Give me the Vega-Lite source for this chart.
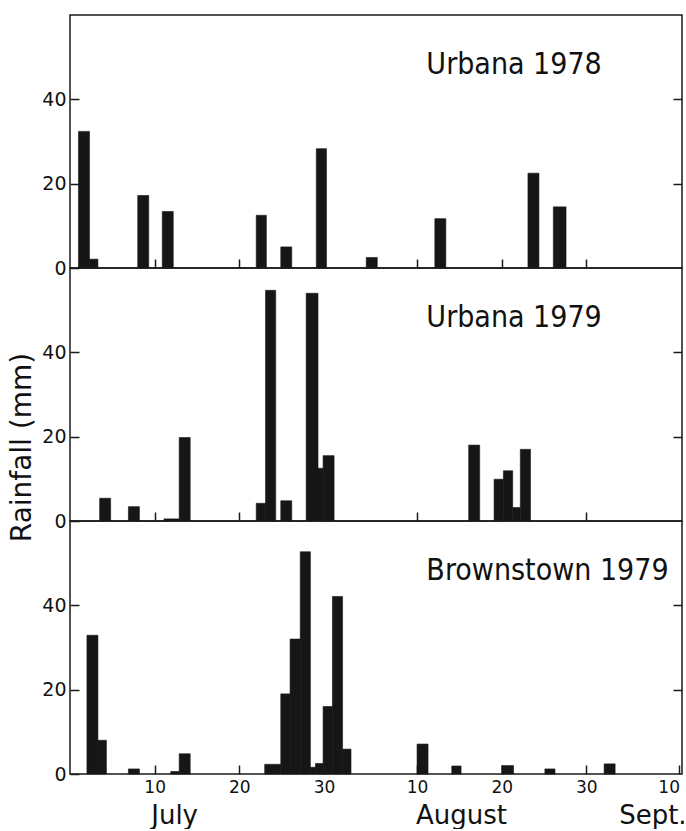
{
  "$schema": "https://vega.github.io/schema/vega-lite/v6.json",
  "padding": {"left": 8, "top": 14, "right": 2, "bottom": 0},
  "background": "white",
  "spacing": 0,
  "bounds": "flush",
  "datasets": {
    "rain": [
      {"site": "Urbana 1978", "start": 1.0, "end": 2.3, "rain_mm": 32.4},
      {"site": "Urbana 1978", "start": 2.3, "end": 3.3, "rain_mm": 2.1},
      {"site": "Urbana 1978", "start": 8.0, "end": 9.3, "rain_mm": 17.2},
      {"site": "Urbana 1978", "start": 10.9, "end": 12.2, "rain_mm": 13.4},
      {"site": "Urbana 1978", "start": 22.0, "end": 23.2, "rain_mm": 12.5},
      {"site": "Urbana 1978", "start": 24.9, "end": 26.2, "rain_mm": 5.0},
      {"site": "Urbana 1978", "start": 29.1, "end": 30.3, "rain_mm": 28.3},
      {"site": "Urbana 1978", "start": 35.0, "end": 36.3, "rain_mm": 2.5},
      {"site": "Urbana 1978", "start": 43.1, "end": 44.4, "rain_mm": 11.7},
      {"site": "Urbana 1978", "start": 54.1, "end": 55.4, "rain_mm": 22.5},
      {"site": "Urbana 1978", "start": 57.1, "end": 58.6, "rain_mm": 14.5},
      {"site": "Urbana 1979", "start": 3.5, "end": 4.8, "rain_mm": 5.4},
      {"site": "Urbana 1979", "start": 6.9, "end": 8.2, "rain_mm": 3.4},
      {"site": "Urbana 1979", "start": 11.1, "end": 12.9, "rain_mm": 0.5},
      {"site": "Urbana 1979", "start": 12.9, "end": 14.2, "rain_mm": 19.8},
      {"site": "Urbana 1979", "start": 22.0, "end": 23.1, "rain_mm": 4.2},
      {"site": "Urbana 1979", "start": 23.1, "end": 24.3, "rain_mm": 54.7},
      {"site": "Urbana 1979", "start": 24.9, "end": 26.2, "rain_mm": 4.8},
      {"site": "Urbana 1979", "start": 27.9, "end": 29.3, "rain_mm": 54.0},
      {"site": "Urbana 1979", "start": 29.3, "end": 29.9, "rain_mm": 12.5},
      {"site": "Urbana 1979", "start": 29.9, "end": 31.2, "rain_mm": 15.5},
      {"site": "Urbana 1979", "start": 47.1, "end": 48.4, "rain_mm": 18.0},
      {"site": "Urbana 1979", "start": 50.1, "end": 51.2, "rain_mm": 9.9},
      {"site": "Urbana 1979", "start": 51.2, "end": 52.3, "rain_mm": 11.9},
      {"site": "Urbana 1979", "start": 52.3, "end": 53.2, "rain_mm": 3.2},
      {"site": "Urbana 1979", "start": 53.2, "end": 54.4, "rain_mm": 17.0},
      {"site": "Brownstown 1979", "start": 2.0, "end": 3.3, "rain_mm": 32.9},
      {"site": "Brownstown 1979", "start": 3.3, "end": 4.3, "rain_mm": 8.0},
      {"site": "Brownstown 1979", "start": 6.9, "end": 8.2, "rain_mm": 1.2},
      {"site": "Brownstown 1979", "start": 11.9, "end": 12.9, "rain_mm": 0.6},
      {"site": "Brownstown 1979", "start": 12.9, "end": 14.2, "rain_mm": 4.8},
      {"site": "Brownstown 1979", "start": 23.0, "end": 24.9, "rain_mm": 2.3},
      {"site": "Brownstown 1979", "start": 24.9, "end": 26.0, "rain_mm": 19.0},
      {"site": "Brownstown 1979", "start": 26.0, "end": 27.2, "rain_mm": 32.0},
      {"site": "Brownstown 1979", "start": 27.2, "end": 28.4, "rain_mm": 52.7},
      {"site": "Brownstown 1979", "start": 28.4, "end": 29.0, "rain_mm": 1.6},
      {"site": "Brownstown 1979", "start": 29.0, "end": 29.9, "rain_mm": 2.5},
      {"site": "Brownstown 1979", "start": 29.9, "end": 31.0, "rain_mm": 16.0},
      {"site": "Brownstown 1979", "start": 31.0, "end": 32.2, "rain_mm": 42.1},
      {"site": "Brownstown 1979", "start": 32.2, "end": 33.2, "rain_mm": 5.9},
      {"site": "Brownstown 1979", "start": 41.0, "end": 42.3, "rain_mm": 7.1},
      {"site": "Brownstown 1979", "start": 45.1, "end": 46.2, "rain_mm": 1.9},
      {"site": "Brownstown 1979", "start": 51.0, "end": 52.4, "rain_mm": 2.0},
      {"site": "Brownstown 1979", "start": 56.1, "end": 57.3, "rain_mm": 1.2},
      {"site": "Brownstown 1979", "start": 63.1, "end": 64.4, "rain_mm": 2.4}
    ]
  },
  "vconcat": [
    {
      "width": 612, "height": 253,
      "data": {"name": "rain"},
      "transform": [{"filter": "datum.site == 'Urbana 1978'"}],
      "layer": [
        {
          "mark": {"type": "bar", "color": "#161616", "stroke": "#161616", "strokeWidth": 0.6},
          "encoding": {
            "x": {"field": "start", "type": "quantitative", "scale": {"domain": [0, 72.3], "nice": false, "zero": false},
                  "axis": {"values": [10, 20, 30, 41, 51, 61], "labels": false, "tickSize": -9, "title": null}},
            "x2": {"field": "end"},
            "y": {"field": "rain_mm", "type": "quantitative", "scale": {"domain": [0, 60], "nice": false},
                  "axis": {"values": [0, 20, 40], "tickSize": -9, "labelPadding": 13, "labelFontSize": 19, "title": null}},
            "y2": {"datum": 0}
          }
        },
        {
          "transform": [{"aggregate": [], "groupby": ["site"]}],
          "mark": {"type": "text", "align": "left", "baseline": "alphabetic", "fontSize": 30, "font": "DejaVu Sans Condensed, DejaVu Sans", "color": "#111"},
          "encoding": {
            "x": {"datum": 42.1, "type": "quantitative"},
            "y": {"datum": 46, "type": "quantitative", "axis": {"orient": "right", "values": [20, 40], "labels": false, "tickSize": -9, "title": null}},
            "text": {"field": "site"}
          }
        }
      ],
      "resolve": {"axis": {"y": "independent"}}
    },
    {
      "width": 612, "height": 253,
      "data": {"name": "rain"},
      "transform": [{"filter": "datum.site == 'Urbana 1979'"}],
      "layer": [
        {
          "mark": {"type": "bar", "color": "#161616", "stroke": "#161616", "strokeWidth": 0.6},
          "encoding": {
            "x": {"field": "start", "type": "quantitative", "scale": {"domain": [0, 72.3], "nice": false, "zero": false},
                  "axis": {"values": [10, 20, 30, 41, 51, 61], "labels": false, "tickSize": -9, "title": null}},
            "x2": {"field": "end"},
            "y": {"field": "rain_mm", "type": "quantitative", "scale": {"domain": [0, 60], "nice": false},
                  "axis": {"values": [0, 20, 40], "tickSize": -9, "labelPadding": 13, "labelFontSize": 19,
                           "title": "Rainfall (mm)", "titleFontSize": 28, "titleY": 179, "titlePadding": 5}},
            "y2": {"datum": 0}
          }
        },
        {
          "transform": [{"aggregate": [], "groupby": ["site"]}],
          "mark": {"type": "text", "align": "left", "baseline": "alphabetic", "fontSize": 30, "font": "DejaVu Sans Condensed, DejaVu Sans", "color": "#111"},
          "encoding": {
            "x": {"datum": 42.1, "type": "quantitative"},
            "y": {"datum": 46, "type": "quantitative", "axis": {"orient": "right", "values": [20, 40], "labels": false, "tickSize": -9, "title": null}},
            "text": {"field": "site"}
          }
        }
      ],
      "resolve": {"axis": {"y": "independent"}}
    },
    {
      "width": 612, "height": 253,
      "data": {"name": "rain"},
      "transform": [{"filter": "datum.site == 'Brownstown 1979'"}],
      "layer": [
        {
          "mark": {"type": "bar", "color": "#161616", "stroke": "#161616", "strokeWidth": 0.6},
          "encoding": {
            "x": {"field": "start", "type": "quantitative", "scale": {"domain": [0, 72.3], "nice": false, "zero": false},
                  "axis": {"values": [10, 20, 30, 41, 51, 61, 72], "tickSize": -9, "labelPadding": 14, "labelFontSize": 17,
                           "labelFlush": 5, "labelOverlap": false,
                           "labelExpr": "datum.value <= 31 ? datum.value : datum.value <= 62 ? datum.value - 31 : datum.value - 62",
                           "title": null}},
            "x2": {"field": "end"},
            "y": {"field": "rain_mm", "type": "quantitative", "scale": {"domain": [0, 60], "nice": false},
                  "axis": {"values": [0, 20, 40], "tickSize": -9, "labelPadding": 13, "labelFontSize": 19, "title": null}},
            "y2": {"datum": 0}
          }
        },
        {
          "transform": [{"aggregate": [], "groupby": ["site"]}],
          "mark": {"type": "text", "align": "left", "baseline": "alphabetic", "fontSize": 30, "font": "DejaVu Sans Condensed, DejaVu Sans", "color": "#111"},
          "encoding": {
            "x": {"datum": 42.1, "type": "quantitative",
                  "axis": {"orient": "bottom", "values": [12.3, 46.2, 68.8], "ticks": false, "labelPadding": 28, "labelFontSize": 26,
                           "labelFlush": false, "labelOverlap": false,
                           "labelExpr": "datum.value < 20 ? 'July' : datum.value < 60 ? 'August' : 'Sept.'", "title": null}},
            "y": {"datum": 46, "type": "quantitative", "axis": {"orient": "right", "values": [20, 40], "labels": false, "tickSize": -9, "title": null}},
            "text": {"field": "site"}
          }
        }
      ],
      "resolve": {"axis": {"x": "independent", "y": "independent"}}
    }
  ],
  "config": {
    "view": {"stroke": "#1a1a1a", "strokeWidth": 1.5},
    "axis": {"grid": false, "domain": false, "tickColor": "#1a1a1a", "tickWidth": 1.5, "labelColor": "#111", "titleColor": "#111",
             "labelFont": "DejaVu Sans", "titleFont": "DejaVu Sans", "titleFontWeight": "normal"},
    "text": {"font": "DejaVu Sans"}
  }
}
